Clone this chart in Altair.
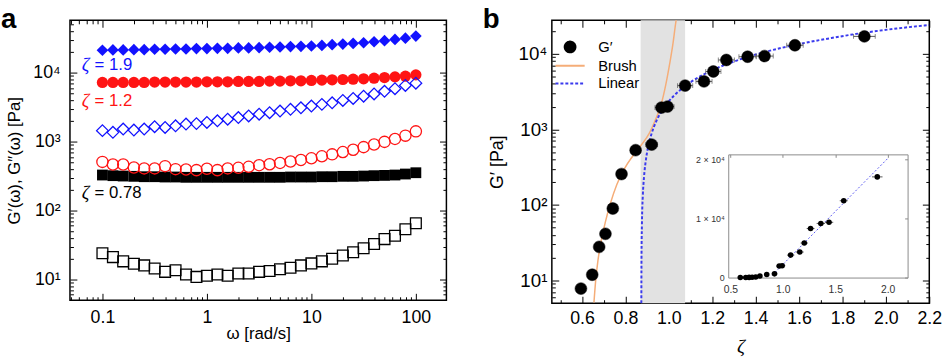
import altair as alt
import pandas as pd

FONT = "Liberation Sans"
SERIF = "Liberation Serif"

# ---------------- panel a: frequency sweeps ----------------
omega = [0.1, 0.126, 0.158, 0.2, 0.251, 0.316, 0.398, 0.501, 0.631, 0.794,
         1.0, 1.26, 1.58, 2.0, 2.51, 3.16, 3.98, 5.01, 6.31, 7.94,
         10.0, 12.6, 15.8, 20.0, 25.1, 31.6, 39.8, 50.1, 63.1, 79.4, 100.0]

# storage moduli G' (filled markers)
gp_19 = [21100, 21300, 21300, 21500, 21500, 21800, 21800, 22000, 22000, 22300,
         22300, 22500, 22500, 22800, 22800, 23000, 23300, 23500, 23800, 24000,
         24300, 24800, 25400, 25900, 26500, 27100, 28000, 29000, 30300, 31600, 33800]
gp_12 = [7200, 7200, 7200, 7200, 7200, 7280, 7280, 7280, 7280, 7280,
         7360, 7360, 7360, 7440, 7440, 7440, 7520, 7520, 7600, 7600,
         7690, 7770, 7860, 7940, 8030, 8120, 8300, 8480, 8670, 8870, 9270]
gp_078 = [327, 320, 316, 313, 309, 309, 306, 306, 303, 303,
          303, 303, 303, 303, 303, 303, 303, 303, 306, 306,
          306, 309, 309, 313, 313, 316, 320, 323, 327, 338, 353]

# loss moduli G'' (open markers)
gpp_19 = [1440, 1360, 1520, 1470, 1520, 1640, 1600, 1690, 1790, 1820,
          1890, 2000, 2110, 2230, 2350, 2490, 2620, 2770, 2930, 3090,
          3270, 3460, 3640, 3950, 4210, 4540, 4900, 5360, 5850, 6520, 7030]
gpp_12 = [507, 465, 465, 421, 408, 408, 440, 398, 394, 385,
          403, 385, 408, 416, 430, 454, 469, 490, 513, 541,
          571, 611, 652, 704, 760, 830, 906, 989, 1091, 1218, 1405]
gpp_078 = [24.0, 21.1, 18.3, 16.9, 16.0, 14.4, 12.9, 13.6, 11.8, 10.9,
           11.3, 11.8, 11.3, 12.2, 12.2, 12.9, 13.3, 14.1, 14.8, 16.0,
           17.1, 18.3, 20.0, 22.3, 24.8, 28.3, 32.7, 38.5, 43.0, 53.5, 65.2]

zeta_levels = ["1.9", "1.2", "0.78"]
zeta_colors = ["#1212ff", "#ff1414", "#000000"]
zeta_shapes = ["diamond", "circle", "square"]
zeta_sizes = [140, 120, 100]

note_symbol = ["ζ", "ζ", "ζ"]
note_value = ["= 1.9", "= 1.2", "= 0.78"]
note_omega = [0.0634, 0.0634, 0.0634]
note_g = [13000, 3850, 181]

# ---------------- panel b: G' versus packing fraction ----------------
zeta_pts = [0.595, 0.647, 0.679, 0.708, 0.742, 0.782, 0.847, 0.921, 0.966, 0.994,
            1.075, 1.162, 1.205, 1.265, 1.363, 1.441, 1.581, 1.901]
g_pts = [7.8, 11.9, 27.8, 41.4, 89.5, 256, 530, 628, 1940, 2000,
         3790, 4310, 5830, 8280, 9140, 9330, 12970, 17000]
zeta_err = [0.008, 0.01, 0.012, 0.015, 0.015, 0.02, 0.02, 0.027, 0.03, 0.03,
            0.035, 0.037, 0.035, 0.037, 0.04, 0.04, 0.038, 0.05]

brush_zeta = [0.655, 0.663, 0.673, 0.688, 0.708, 0.731, 0.760, 0.795, 0.833,
              0.873, 0.911, 0.934, 0.964, 0.986, 1.004, 1.019, 1.031, 1.040]
brush_g = [5.1, 10, 18, 33, 60, 105, 185, 300, 440, 620, 900, 1250, 2100,
           3900, 7400, 13600, 24800, 36000]

linear_zeta = [0.8733, 0.874, 0.876, 0.880, 0.886, 0.895, 0.907, 0.922, 0.940,
               0.965, 1.000, 1.050, 1.100, 1.200, 1.300, 1.450, 1.600, 1.750,
               1.900, 2.050, 2.200]
linear_g = [5, 18.5, 55, 130, 240, 407, 630, 905, 1240, 1700, 2350, 3270, 4200,
            6050, 7900, 10700, 13450, 16200, 19000, 21600, 24000]

inset_line_zeta = [0.90, 2.0]
inset_line_g = [400, 20100]

band_lo, band_hi = 0.87, 1.075
legend_names = ["G′", "Brush", "Linear"]
brush_color = "#f5ad78"
linear_color = "#3a3aee"
legend_fill = ["#000000", "transparent", "transparent"]
legend_stroke = ["#000000", brush_color, linear_color]
legend_dash = [[1, 0], [1, 0], [3, 2]]
legend_shape = ["circle", "M-2.7,0L2.7,0", "M-2.7,0L2.7,0"]

# ---------------- geometry ----------------
W_A, H_A = 382, 284
W_B, H_B = 383, 287
XA_DOM = [0.0489, 196]
YA_DOM = [5.0, 57200]
XB_DOM = [0.461, 2.2]
YB_DOM = [5.0, 27700]
XI_DOM = [0.48, 2.19]
YI_DOM = [0, 20800]
XI_RANGE = [179, 361]
YI_RANGE = [261, 136]
INSET_GREY = "#8a8a8a"

LOG_MAJOR = "abs(log(datum.value)/LN10 - round(log(datum.value)/LN10)) < 0.001"
LIN_MAJOR = "abs(datum.value*5 - round(datum.value*5)) < 0.001"
SUP_LABEL = ("datum.value == 10 ? '10¹' : datum.value == 100 ? '10²' : "
             "datum.value == 1000 ? '10³' : '10⁴'")


def log_ticks(lo, hi):
    vals = []
    for e in range(-3, 6):
        for m in range(1, 10):
            v = m * 10.0 ** e
            if lo < v < hi:
                vals.append(v)
    return vals


def tick_axis(orient, offset, values, test, long=7, short=3.5):
    return alt.Axis(orient=orient, offset=offset, values=values, labels=False,
                    domain=False, grid=False, title=None, tickColor="black",
                    tickWidth=1,
                    tickSize={"condition": {"test": test, "value": long}, "value": short})


def inset_edge(orient, offset, values):
    # plain edge of the inset box with small inward ticks
    return alt.Axis(orient=orient, offset=offset, values=values, labels=False,
                    domain=True, domainColor=INSET_GREY, domainWidth=1, grid=False,
                    title=None, tickColor=INSET_GREY, tickWidth=1, tickSize=3)


xa_ticks = log_ticks(*XA_DOM)
ya_ticks = log_ticks(*YA_DOM)
yb_ticks = log_ticks(*YB_DOM)
xb_ticks = [round(0.5 + 0.1 * i, 1) for i in range(18)]

n = len(omega)
storage = pd.DataFrame({"omega": omega * 3, "G": gp_19 + gp_12 + gp_078,
                        "zeta": [z for z in zeta_levels for _ in range(n)]})
loss = pd.DataFrame({"omega": omega * 3, "G": gpp_19 + gpp_12 + gpp_078,
                     "zeta": [z for z in zeta_levels for _ in range(n)]})
notes = pd.DataFrame({"symbol": note_symbol, "value": note_value, "omega": note_omega,
                      "G": note_g, "zeta": zeta_levels})

xa = alt.Scale(type="log", domain=XA_DOM, nice=False)
ya = alt.Scale(type="log", domain=YA_DOM, nice=False)
col_a = alt.Scale(domain=zeta_levels, range=zeta_colors)
shp_a = alt.Scale(domain=zeta_levels, range=zeta_shapes)
siz_a = alt.Scale(domain=zeta_levels, range=zeta_sizes)

ax_a_x = alt.Axis(values=[0.1, 1, 10, 100], format="~g", ticks=False, tickSize=0,
                  domain=False, grid=False, labelFont=FONT, labelFontSize=18,
                  labelColor="black", labelPadding=9, title="ω [rad/s]",
                  titleFont=FONT, titleFontSize=17, titleFontWeight="normal",
                  titleColor="black", titlePadding=-1)
ax_a_y = alt.Axis(values=[10, 100, 1000, 10000], labelExpr=SUP_LABEL, ticks=False,
                  tickSize=0, domain=False, grid=False, labelFont=FONT,
                  labelFontSize=18, labelColor="black", labelPadding=10,
                  title="G′(ω), G″(ω) [Pa]", titleFont=FONT, titleFontSize=17,
                  titleFontWeight="normal", titleColor="black", titlePadding=9)

filled_a = alt.Chart(storage).mark_point(filled=True, opacity=1).encode(
    x=alt.X("omega:Q", scale=xa, axis=ax_a_x),
    y=alt.Y("G:Q", scale=ya, axis=ax_a_y),
    color=alt.Color("zeta:N", scale=col_a, legend=None),
    shape=alt.Shape("zeta:N", scale=shp_a, legend=None),
    size=alt.Size("zeta:N", scale=siz_a, legend=None),
)
open_a = alt.Chart(loss).mark_point(filled=False, opacity=1, strokeWidth=1.3).encode(
    x=alt.X("omega:Q", scale=xa, axis=tick_axis("top", -H_A, xa_ticks, LOG_MAJOR)),
    y=alt.Y("G:Q", scale=ya, axis=tick_axis("right", -W_A, ya_ticks, LOG_MAJOR)),
    color=alt.Color("zeta:N", scale=col_a, legend=None),
    shape=alt.Shape("zeta:N", scale=shp_a, legend=None),
    size=alt.Size("zeta:N", scale=siz_a, legend=None),
)
notes_sym = alt.Chart(notes).mark_text(align="left", baseline="middle", font=SERIF,
                                       fontStyle="italic", fontSize=19).encode(
    x=alt.X("omega:Q", scale=xa, axis=tick_axis("bottom", -H_A, xa_ticks, LOG_MAJOR)),
    y=alt.Y("G:Q", scale=ya, axis=tick_axis("left", -W_A, ya_ticks, LOG_MAJOR)),
    text="symbol:N",
    color=alt.Color("zeta:N", scale=col_a, legend=None),
)
notes_val = alt.Chart(notes).mark_text(align="left", baseline="middle", font=FONT,
                                       fontSize=17, dx=13).encode(
    x=alt.X("omega:Q", scale=xa, axis=None),
    y=alt.Y("G:Q", scale=ya, axis=None),
    text="value:N",
    color=alt.Color("zeta:N", scale=col_a, legend=None),
)

panel_a = alt.layer(filled_a, open_a, notes_sym, notes_val).resolve_axis(
    x="independent", y="independent"
).properties(
    width=W_A, height=H_A,
    title=alt.TitleParams("a", anchor="start", frame="group", dx=-70, fontSize=28,
                          fontWeight="bold", font=FONT, color="black", offset=-14),
)

# ---------------- panel b ----------------
points = pd.DataFrame({"zeta": zeta_pts, "G": g_pts,
                       "lo": [z - e for z, e in zip(zeta_pts, zeta_err)],
                       "hi": [z + e for z, e in zip(zeta_pts, zeta_err)],
                       "series": legend_names[0]})
brush = pd.DataFrame({"zeta": brush_zeta, "G": brush_g})
linear = pd.DataFrame({"zeta": linear_zeta, "G": linear_g})
band = pd.DataFrame({"lo": [band_lo], "hi": [band_hi]})
inset_line = pd.DataFrame({"zeta": inset_line_zeta, "G": inset_line_g})

xb = alt.Scale(domain=XB_DOM, nice=False, zero=False)
yb = alt.Scale(type="log", domain=YB_DOM, nice=False)

leg_b = alt.Legend(
    title=None, orient="none", legendX=11, legendY=19.5, padding=0, rowPadding=2,
    symbolSize=120, labelFont=FONT, labelFontSize=15, labelColor="black",
    labelOffset=21, symbolStrokeWidth=2, symbolOpacity=1,
)

ax_b_x = alt.Axis(values=[0.6, 0.8, 1.0, 1.2, 1.4, 1.6, 1.8, 2.0, 2.2], format=".1f",
                  ticks=False, tickSize=0, domain=False, grid=False, labelFont=FONT,
                  labelFontSize=18, labelColor="black", labelPadding=7,
                  labelFlush=False, title="ζ",
                  titleFont=SERIF, titleFontStyle="italic",
                  titleFontSize=20, titleFontWeight="normal", titleColor="black",
                  titlePadding=9)
ax_b_y = alt.Axis(values=[10, 100, 1000, 10000], labelExpr=SUP_LABEL, ticks=False,
                  tickSize=0, domain=False, grid=False, labelFont=FONT,
                  labelFontSize=19, labelColor="black", labelPadding=5,
                  title="G′ [Pa]", titleFont=FONT, titleFontSize=18,
                  titleFontWeight="normal", titleColor="black", titlePadding=12)

band_b = alt.Chart(band).mark_rect(color="#e2e2e2").encode(
    x=alt.X("lo:Q", scale=xb, axis=None), x2="hi:Q")
brush_b = alt.Chart(brush).mark_line(strokeWidth=1.5, clip=True, color=brush_color,
                                     interpolate="monotone").encode(
    x=alt.X("zeta:Q", scale=xb, axis=tick_axis("top", -H_B, xb_ticks, LIN_MAJOR)),
    y=alt.Y("G:Q", scale=yb, axis=tick_axis("right", -W_B, yb_ticks, LOG_MAJOR)),
)
linear_b = alt.Chart(linear).mark_line(strokeWidth=2, strokeDash=[3, 2], clip=True,
                                       color=linear_color, interpolate="monotone").encode(
    x=alt.X("zeta:Q", scale=xb, axis=tick_axis("bottom", -H_B, xb_ticks, LIN_MAJOR)),
    y=alt.Y("G:Q", scale=yb, axis=tick_axis("left", -W_B, yb_ticks, LOG_MAJOR)),
)
err_b = alt.Chart(points).mark_errorbar(ticks=True, color="#555555", thickness=1).encode(
    x=alt.X("lo:Q", scale=xb, axis=None), x2="hi:Q",
    y=alt.Y("G:Q", scale=yb, axis=None),
)
# the data points also carry the legend for all three series
pts_b = alt.Chart(points).mark_point(filled=True, size=144, opacity=1,
                                     strokeWidth=0.5).encode(
    x=alt.X("zeta:Q", scale=xb, axis=ax_b_x),
    y=alt.Y("G:Q", scale=yb, axis=ax_b_y),
    fill=alt.Fill("series:N", scale=alt.Scale(domain=legend_names, range=legend_fill),
                  legend=leg_b),
    stroke=alt.Stroke("series:N", scale=alt.Scale(domain=legend_names, range=legend_stroke),
                      legend=leg_b),
    shape=alt.Shape("series:N", scale=alt.Scale(domain=legend_names, range=legend_shape),
                    legend=leg_b),
    strokeDash=alt.StrokeDash("series:N",
                              scale=alt.Scale(domain=legend_names, range=legend_dash),
                              legend=leg_b),
)
main_b = alt.layer(band_b, brush_b, linear_b, err_b, pts_b).resolve_axis(
    x="independent", y="independent")

# inset: same data on linear axes, boxed by its four axis lines
xi = alt.Scale(domain=XI_DOM, range=XI_RANGE, nice=False, zero=False)
yi = alt.Scale(domain=YI_DOM, range=YI_RANGE, nice=False, zero=False)
ax_i_x = alt.Axis(orient="bottom", offset=-(H_B - YI_RANGE[0]),
                  values=[0.5, 1.0, 1.5, 2.0], format=".1f", domain=True,
                  domainColor=INSET_GREY, domainWidth=1,
                  ticks=False, tickSize=0, grid=False, labelFont=FONT,
                  labelFontSize=10.5, labelColor="#333333", labelPadding=7, title=None)
ax_i_y = alt.Axis(orient="left", offset=-XI_RANGE[0], values=[0, 10000, 20000],
                  labelExpr="datum.value == 0 ? '0' : (datum.value / 10000) + ' × 10⁴'",
                  domain=True, domainColor=INSET_GREY, domainWidth=1,
                  ticks=False, tickSize=0, grid=False, labelFont=FONT,
                  labelFontSize=9, labelColor="#333333", labelPadding=4, title=None)

line_i = alt.Chart(inset_line).mark_line(color="#5a5af0", strokeWidth=1,
                                         strokeDash=[2, 2]).encode(
    x=alt.X("zeta:Q", scale=xi, axis=ax_i_x),
    y=alt.Y("G:Q", scale=yi, axis=ax_i_y))
err_i = alt.Chart(points).mark_errorbar(color="#555555", thickness=1).encode(
    x=alt.X("lo:Q", scale=xi,
            axis=inset_edge("bottom", -(H_B - YI_RANGE[1]), [0.5, 1.0, 1.5, 2.0])),
    x2="hi:Q",
    y=alt.Y("G:Q", scale=yi,
            axis=inset_edge("left", -XI_RANGE[1], [0, 10000, 20000])))
pts_i = alt.Chart(points).mark_point(filled=True, size=32, opacity=1, color="black").encode(
    x=alt.X("zeta:Q", scale=xi, axis=None), y=alt.Y("G:Q", scale=yi, axis=None))
inset_b = alt.layer(line_i, err_i, pts_i).resolve_axis(
    x="independent", y="independent")

panel_b = alt.layer(main_b, inset_b).resolve_scale(
    x="independent", y="independent"
).resolve_axis(
    x="independent", y="independent"
).properties(
    width=W_B, height=H_B,
    title=alt.TitleParams("b", anchor="start", frame="group", dx=-70, fontSize=28,
                          fontWeight="bold", font=FONT, color="black", offset=-14),
)

chart = alt.hconcat(panel_a, panel_b, spacing=34).resolve_scale(
    color="independent", shape="independent", size="independent",
    fill="independent", stroke="independent", strokeDash="independent",
).resolve_legend(
    color="independent", shape="independent", size="independent",
    fill="independent", stroke="independent", strokeDash="independent",
).configure_view(
    stroke="black", strokeWidth=1.5
).properties(
    padding={"left": 0, "top": 2, "right": 5, "bottom": 0},
    background="white",
)

chart.save("out.html", embed_options={"renderer": "svg", "actions": False})
